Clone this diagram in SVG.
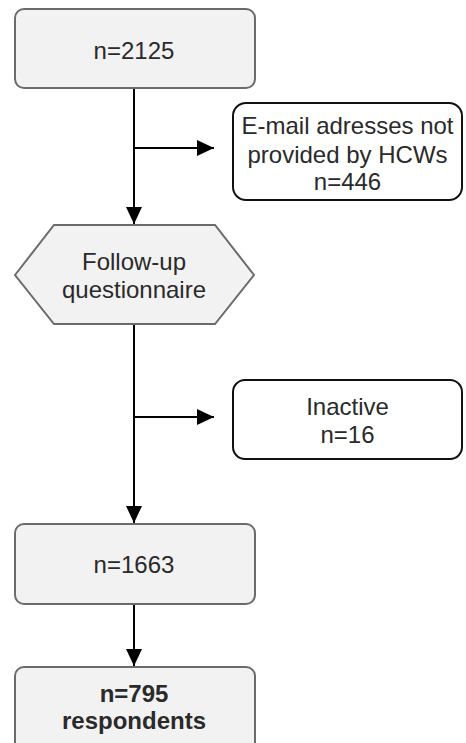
<svg xmlns="http://www.w3.org/2000/svg" width="466" height="743" viewBox="0 0 466 743">
<defs>
<marker id="arr" markerUnits="userSpaceOnUse" markerWidth="18" markerHeight="18" refX="17" refY="8" orient="auto">
<path d="M0,0 L17,8 L0,16 Z" fill="#000"/>
</marker>
</defs>
<style>
.g{fill:#f2f2f2;stroke:#6b6b6b;stroke-width:2}
.w{fill:#fff;stroke:#111;stroke-width:2}
text{font-family:"Liberation Sans",Arial,sans-serif;font-size:24px;fill:#2a2a2a;text-anchor:middle}
.b{font-weight:bold}
.c{fill:none;stroke:#000;stroke-width:2}
</style>
<rect width="466" height="743" fill="#fff"/>
<g id="connectors">
<line class="c" x1="134" y1="88" x2="134" y2="224" marker-end="url(#arr)"/>
<line class="c" x1="134" y1="148" x2="214" y2="148" marker-end="url(#arr)"/>
<line class="c" x1="134" y1="324" x2="134" y2="523" marker-end="url(#arr)"/>
<line class="c" x1="134" y1="417" x2="214" y2="417" marker-end="url(#arr)"/>
<line class="c" x1="134" y1="604" x2="134" y2="666" marker-end="url(#arr)"/>
</g>
<g id="n2125">
<rect class="g" x="15" y="9" width="240" height="79" rx="9"/>
<text x="134" y="59">n=2125</text>
</g>
<g id="email">
<rect class="w" x="233" y="103" width="229" height="97" rx="13"/>
<text x="347.5" y="134">E-mail adresses not</text>
<text x="347.5" y="163">provided by HCWs</text>
<text x="347.5" y="190">n=446</text>
</g>
<g id="followup">
<polygon class="g" points="15,275 54,225 215,225 254,275 215,324 54,324"/>
<text x="134" y="270">Follow-up</text>
<text x="134" y="298">questionnaire</text>
</g>
<g id="inactive">
<rect class="w" x="233" y="380" width="229" height="79" rx="12"/>
<text x="347.5" y="415">Inactive</text>
<text x="347.5" y="443">n=16</text>
</g>
<g id="n1663">
<rect class="g" x="15" y="524" width="240" height="80" rx="9"/>
<text x="134" y="573">n=1663</text>
</g>
<g id="n795">
<rect class="g" x="15" y="667" width="240" height="90" rx="9"/>
<text class="b" x="134" y="702">n=795</text>
<text class="b" x="134" y="729">respondents</text>
</g>
</svg>
